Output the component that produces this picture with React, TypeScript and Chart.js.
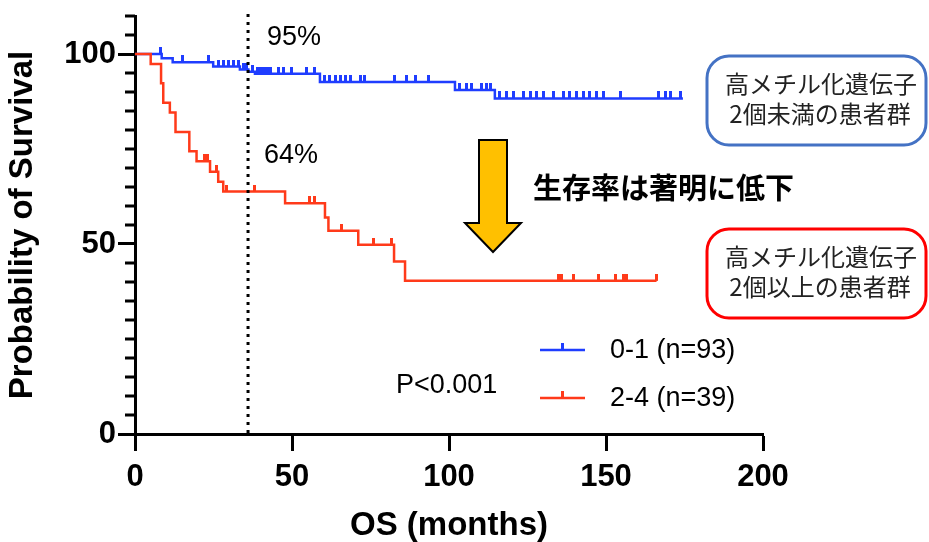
import React, { useEffect, useRef } from 'react';
import { Chart, registerables } from 'chart.js';

Chart.register(...registerables);

// ---- Data ----
const blueTimes = [0, 8.5, 12.0, 24.9, 33.4, 36.1, 38.2, 58.9, 101.9, 114.6, 174.5];
const blueSurv = [100, 98.9, 97.8, 96.7, 95.9, 95.3, 94.8, 92.6, 90.5, 88.3, 88.3];
const blueCensored = [
  8.0, 15.1, 23.4, 26.5, 28.1, 29.7, 31.3, 32.9, 34.6, 35.4, 37.3, 38.9, 39.7, 40.5, 41.3,
  42.1, 43.0, 45.6, 47.2, 49.9, 54.6, 57.3, 60.5, 62.1, 63.7, 65.3, 66.9, 68.5, 71.7, 73.2,
  82.8, 86.5, 89.2, 93.4, 103.5, 105.6, 107.2, 110.4, 112.0, 113.1, 116.2, 118.4, 120.5,
  123.7, 125.8, 127.9, 130.1, 133.2, 136.4, 138.5, 140.7, 142.8, 144.9, 147.0, 149.2,
  154.5, 166.7, 168.8, 170.4, 173.6,
];
const redTimes = [0, 5.0, 8.3, 9.0, 11.1, 12.9, 17.3, 19.6, 23.9, 26.5, 28.1, 47.8, 60.5, 61.6, 71.1, 82.5, 86.0, 166.1];
const redSurv = [100, 97.4, 92.3, 87.2, 84.6, 79.5, 74.4, 71.8, 69.0, 66.4, 63.8, 60.7, 57.0, 53.5, 49.8, 45.4, 40.3, 40.3];
const redCensored = [22.0, 23.0, 26.0, 29.0, 37.9, 55.7, 57.3, 65.8, 75.9, 81.7, 134.8, 135.9, 139.6, 147.6, 152.9, 155.5, 156.6, 166.1];

const xTicks = [0, 50, 100, 150, 200];
const yTicks = [0, 50, 100];
const yMinorStep = 5;
const landmarkMonth = 36;
const landmarkLabels = ['95%', '64%'];
const legendLabels = ['0-1 (n=93)', '2-4 (n=39)'];
const pValueText = 'P<0.001';
const arrowText = '生存率は著明に低下';
const blueBoxLines = ['高メチル化遺伝子', '2個未満の患者群'];
const redBoxLines = ['高メチル化遺伝子', '2個以上の患者群'];

const BLUE = '#1f3dff';
const RED = '#ff3a1a';
const LATIN = '"Liberation Sans", Arial, sans-serif';
const CJK = '"Noto Sans CJK JP", "Noto Sans", sans-serif';

function survAt(times: number[], surv: number[], t: number): number {
  let s = surv[0];
  for (let i = 0; i < times.length; i++) {
    if (times[i] <= t) s = surv[i];
  }
  return s;
}

function tickImage(color: string): HTMLCanvasElement {
  const c = document.createElement('canvas');
  c.width = 3;
  c.height = 14;
  const g = c.getContext('2d')!;
  g.fillStyle = color;
  g.fillRect(0, 0, 3, 7);
  return c;
}

const overlayPlugin = {
  id: 'overlay',
  afterDraw(chart: any) {
    const { ctx } = chart;
    const x = chart.scales.x;
    const y = chart.scales.y;
    ctx.save();
    // minor y ticks
    ctx.fillStyle = '#000';
    for (let v = yMinorStep; v <= y.max; v += yMinorStep) {
      if (yTicks.includes(v)) continue;
      const py = y.getPixelForValue(v);
      ctx.fillRect(x.left - 10, py - 1.5, 10, 3);
    }

    // landmark dotted line
    const lx = x.getPixelForValue(landmarkMonth);
    ctx.strokeStyle = '#000';
    ctx.lineWidth = 3;
    ctx.setLineDash([3, 5]);
    ctx.beginPath();
    ctx.moveTo(lx, y.getPixelForValue(y.max) - 2);
    ctx.lineTo(lx, y.getPixelForValue(0));
    ctx.stroke();
    ctx.setLineDash([]);

    // landmark labels
    ctx.fillStyle = '#000';
    ctx.font = `27px ${LATIN}`;
    ctx.textBaseline = 'middle';
    ctx.textAlign = 'left';
    ctx.fillText(landmarkLabels[0], 267, 38);
    ctx.fillText(landmarkLabels[1], 264, 156);

    // p value
    ctx.fillText(pValueText, 396, 386);

    // legend
    const legendRows = [
      { color: BLUE, y: 350, label: legendLabels[0] },
      { color: RED, y: 398, label: legendLabels[1] },
    ];
    legendRows.forEach((r) => {
      ctx.strokeStyle = r.color;
      ctx.lineWidth = 2.5;
      ctx.beginPath();
      ctx.moveTo(540, r.y);
      ctx.lineTo(585, r.y);
      ctx.stroke();
      ctx.fillStyle = r.color;
      ctx.fillRect(561, r.y - 7, 3, 7);
      ctx.fillStyle = '#000';
      ctx.fillText(r.label, 610, r.y + 1);
    });

    // arrow
    ctx.beginPath();
    ctx.moveTo(479, 140);
    ctx.lineTo(507, 140);
    ctx.lineTo(507, 223);
    ctx.lineTo(521, 223);
    ctx.lineTo(493, 252);
    ctx.lineTo(465, 223);
    ctx.lineTo(479, 223);
    ctx.closePath();
    ctx.fillStyle = '#ffc000';
    ctx.fill();
    ctx.strokeStyle = '#000';
    ctx.lineWidth = 2;
    ctx.stroke();

    // arrow text
    ctx.fillStyle = '#000';
    ctx.font = `bold 29px ${CJK}`;
    ctx.fillText(arrowText, 533, 188);

    // boxes
    const boxes = [
      { top: 56, color: '#4472c4', lines: blueBoxLines },
      { top: 229, color: '#ff0000', lines: redBoxLines },
    ];
    boxes.forEach((b) => {
      ctx.beginPath();
      (ctx as any).roundRect(707, b.top, 219, 89, 22);
      ctx.strokeStyle = b.color;
      ctx.lineWidth = 3;
      ctx.stroke();
      ctx.fillStyle = '#222';
      ctx.font = `24px ${CJK}`;
      ctx.textAlign = 'center';
      ctx.fillText(b.lines[0], 821, b.top + 28);
      ctx.fillText(b.lines[1], 820, b.top + 58);
    });
    ctx.restore();
  },
};

export default function App() {
  const ref = useRef<HTMLCanvasElement>(null);
  useEffect(() => {
    const blueLine = blueTimes.map((t, i) => ({ x: t, y: blueSurv[i] }));
    const redLine = redTimes.map((t, i) => ({ x: t, y: redSurv[i] }));
    const blueTicks = blueCensored.map((t) => ({ x: t, y: survAt(blueTimes, blueSurv, t) }));
    const redTicks = redCensored.map((t) => ({ x: t, y: survAt(redTimes, redSurv, t) }));
    const chart = new Chart(ref.current!, {
      type: 'scatter',
      data: {
        datasets: [
          { data: redLine, showLine: true, stepped: true, borderColor: RED, borderWidth: 2.5, pointRadius: 0, clip: false } as any,
          { data: redTicks, showLine: false, pointStyle: tickImage(RED), pointRadius: 7, clip: false } as any,
          { data: blueLine, showLine: true, stepped: true, borderColor: BLUE, borderWidth: 2.5, pointRadius: 0, clip: false } as any,
          { data: blueTicks, showLine: false, pointStyle: tickImage(BLUE), pointRadius: 7, clip: false } as any,
        ],
      },
      options: {
        responsive: false,
        animation: false,
        events: [],
        layout: { padding: { left: 0, top: 16, right: 166, bottom: 0 } },
        plugins: { legend: { display: false }, tooltip: { enabled: false } },
        scales: {
          x: {
            type: 'linear',
            min: 0,
            max: 200,
            afterBuildTicks: (s: any) => { s.ticks = xTicks.map((v) => ({ value: v })); },
            afterFit: (s: any) => { s.height = 108; s.paddingLeft = 0; s.paddingRight = 0; },
            grid: { drawOnChartArea: false, drawTicks: true, tickLength: 17, tickWidth: 3, tickColor: '#000' },
            border: { display: true, width: 3, color: '#000' },
            ticks: { color: '#000', padding: 8, maxRotation: 0, font: { family: LATIN, size: 31, weight: 'bold' } },
            title: { display: true, text: 'OS (months)', color: '#000', padding: { top: 0, bottom: 0 }, font: { family: LATIN, size: 33, weight: 'bold', lineHeight: 1.0 } },
          },
          y: {
            type: 'linear',
            min: 0,
            max: 110,
            afterBuildTicks: (s: any) => { s.ticks = yTicks.map((v) => ({ value: v })); },
            afterFit: (s: any) => { s.width = 135; s.paddingTop = 0; s.paddingBottom = 0; },
            grid: { drawOnChartArea: false, drawTicks: true, tickLength: 17, tickWidth: 3, tickColor: '#000' },
            border: { display: true, width: 3, color: '#000' },
            ticks: { color: '#000', padding: 2, font: { family: LATIN, size: 31, weight: 'bold' } },
            title: { display: true, text: 'Probability of Survival', color: '#000', padding: { top: 3, bottom: 0 }, font: { family: LATIN, size: 33, weight: 'bold', lineHeight: 1.2 } },
          },
        },
      },
      plugins: [overlayPlugin],
    } as any);
    return () => chart.destroy();
  }, []);
  return (
    <div style={{ position: 'fixed', left: 0, top: 0, width: 929, height: 542, background: '#fff' }}>
      <canvas ref={ref} width={929} height={542} />
    </div>
  );
}
